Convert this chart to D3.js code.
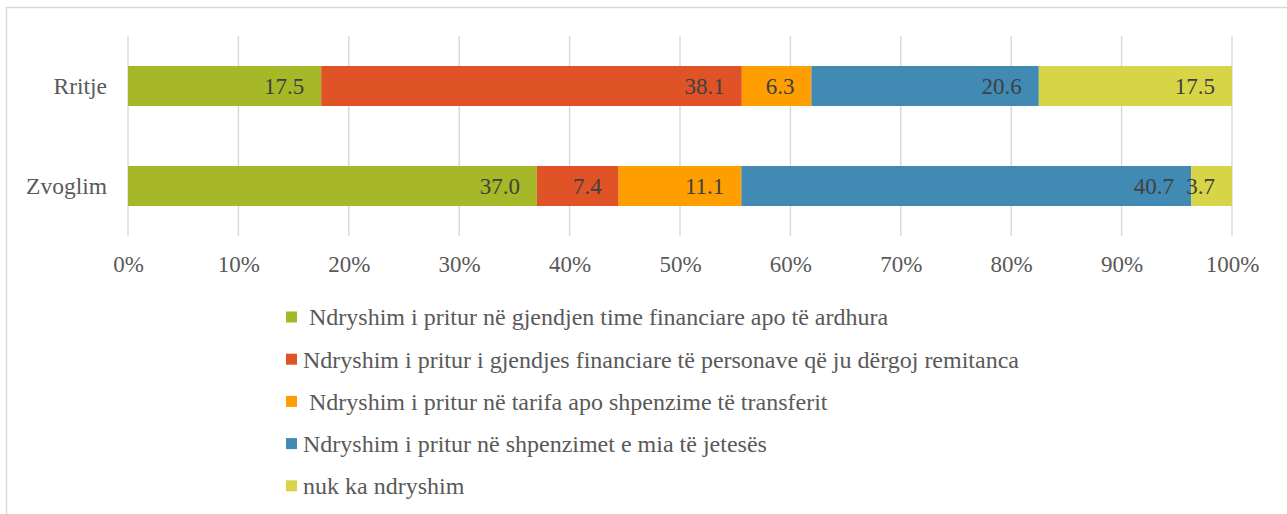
<!DOCTYPE html>
<html>
<head>
<meta charset="utf-8">
<script src="https://cdn.jsdelivr.net/npm/d3@7"></script>
</head>
<body style="margin:0;background:#fff">
<svg width="1287" height="514" font-family="Liberation Serif"></svg>
<script>
var categories = ["Rritje", "Zvoglim"];
var seriesNames = [
    " Ndryshim i pritur në gjendjen time financiare apo të ardhura",
    "Ndryshim i pritur i gjendjes financiare të personave që ju dërgoj remitanca",
    " Ndryshim i pritur në tarifa apo shpenzime të transferit",
    "Ndryshim i pritur në shpenzimet e mia të jetesës",
    "nuk ka ndryshim"
];
var rritjeValues = [17.5, 38.1, 6.3, 20.6, 17.5];
var zvoglimValues = [37.0, 7.4, 11.1, 40.7, 3.7];
var tickValues = [0, 0.1, 0.2, 0.3, 0.4, 0.5, 0.6, 0.7, 0.8, 0.9, 1];
var colors = ["#a6b727", "#df5327", "#fe9e00", "#418ab3", "#d7d447"];
var font = "Liberation Serif";

var svg = d3.select("svg"),
    width = +svg.attr("width"),
    height = +svg.attr("height");

// outer chart frame (runs past the bottom/right edge)
svg.append("rect")
    .attr("x", 6.5).attr("y", 7.5)
    .attr("width", 1400).attr("height", 600)
    .attr("fill", "none")
    .attr("stroke", "#d9d9d9")
    .attr("stroke-width", 1.5);

var rows = categories.map(function(c, i) {
    var r = {cat: c};
    var vals = i === 0 ? rritjeValues : zvoglimValues;
    seriesNames.forEach(function(s, j) { r[j] = vals[j]; });
    return r;
});

var keys = seriesNames.map(function(s, j) { return j; });
var series = d3.stack().keys(keys).offset(d3.stackOffsetExpand)(rows);

var x = d3.scaleLinear().domain([0, 1]).range([128, 1232]);
var y = d3.scaleBand().domain(categories).range([36, 236])
    .paddingInner(0.6).paddingOuter(0.3);

// gridlines
svg.append("g")
    .selectAll("line")
    .data(tickValues)
    .enter().append("line")
    .attr("x1", function(d) { return x(d); })
    .attr("x2", function(d) { return x(d); })
    .attr("y1", 36).attr("y2", 236)
    .attr("stroke", "#d9d9d9")
    .attr("stroke-width", 1.5);

// bars
var layer = svg.append("g")
    .selectAll("g")
    .data(series)
    .enter().append("g")
    .attr("fill", function(d) { return colors[d.key]; });

layer.selectAll("rect")
    .data(function(d) { return d; })
    .enter().append("rect")
    .attr("x", function(d) { return x(d[0]); })
    .attr("y", function(d) { return y(d.data.cat); })
    .attr("width", function(d) { return x(d[1]) - x(d[0]); })
    .attr("height", y.bandwidth());

// value labels, inside end
layer.selectAll("text")
    .data(function(d) { return d.map(function(p) { p.key = d.key; return p; }); })
    .enter().append("text")
    .attr("x", function(d) { return x(d[1]) - 17; })
    .attr("y", function(d) { return y(d.data.cat) + y.bandwidth() / 2; })
    .attr("dy", "0.35em")
    .attr("text-anchor", "end")
    .attr("fill", "#404040")
    .attr("font-family", font)
    .attr("font-size", 23)
    .text(function(d) { return d.data[d.key].toFixed(1); });

// category labels
svg.append("g")
    .selectAll("text")
    .data(categories)
    .enter().append("text")
    .attr("x", 107)
    .attr("y", function(d) { return y(d) + y.bandwidth() / 2; })
    .attr("dy", "0.35em")
    .attr("text-anchor", "end")
    .attr("fill", "#595959")
    .attr("font-family", font)
    .attr("font-size", 23.5)
    .text(function(d) { return d; });

// x axis
var xAxis = svg.append("g")
    .attr("transform", "translate(0,236)")
    .call(d3.axisBottom(x).tickValues(tickValues).tickFormat(d3.format(".0%")).tickSize(0).tickPadding(36));
xAxis.select(".domain").remove();
xAxis.attr("font-family", font).attr("font-size", 23);
xAxis.selectAll("text")
    .attr("fill", "#595959")
    .attr("dy", "0");

// legend
var legend = svg.append("g")
    .selectAll("g")
    .data(seriesNames)
    .enter().append("g")
    .attr("transform", function(d, i) { return "translate(286," + (317 + i * 42.2) + ")"; });

legend.append("rect")
    .attr("x", 0).attr("y", -5.5)
    .attr("width", 11).attr("height", 11)
    .attr("fill", function(d, i) { return colors[i]; });

legend.append("text")
    .attr("x", 17)
    .attr("y", 0)
    .attr("dy", "0.35em")
    .attr("xml:space", "preserve")
    .attr("fill", "#595959")
    .attr("font-family", font)
    .attr("font-size", 24)
    .text(function(d) { return d; });
</script>
</body>
</html>
